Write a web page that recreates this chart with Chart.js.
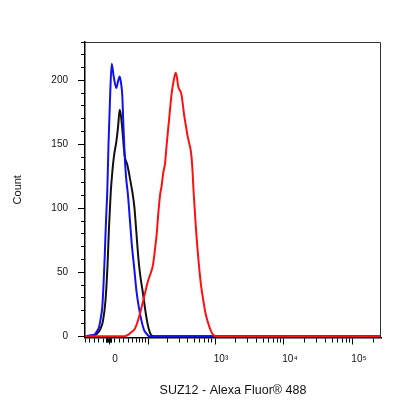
<!DOCTYPE html>
<html>
<head>
<meta charset="utf-8">
<script src="https://cdn.jsdelivr.net/npm/chart.js@4.4.1/dist/chart.umd.min.js"></script>
<style>
  html, body { margin: 0; padding: 0; background: #fff; }
</style>
</head>
<body>
<canvas id="myChart" width="416" height="416" style="width:416px;height:416px"></canvas>
<script>
// x values are display channels on the biexponential axis (69 channels per decade, 0 at channel 0)
const blueX = [-24, -19, -15, -12, -10, -8.5, -6.7, -5.5, -4.3, -3, -1.7, -0.5, 1, 2.7, 4.5, 7.3, 9, 10.7, 12, 13.3, 14.3, 15.7, 17, 19, 21, 23, 25, 27.5, 30, 32.5, 35, 37.5, 40, 272];
const blueY = [0, 0.5, 1, 4, 7, 13, 23, 40, 62, 90, 114, 150, 185, 213, 204, 194, 199, 203, 198, 188, 167, 141, 125, 110, 90, 70, 55, 35, 22, 12, 5, 2, 0, 0];

const blackX = [-24, -17, -12, -9, -6, -3.5, -1.5, 0, 1.7, 3.5, 5, 7.3, 9, 10.7, 12, 13.3, 15.7, 18.3, 21.5, 23.5, 25.5, 27, 29.5, 31.5, 33.5, 36, 38, 40, 42, 45, 272];
const blackY = [0, 0.5, 2, 5, 12, 28, 55, 85, 112, 130, 141, 152, 163, 177, 172, 162, 141, 134, 121, 112, 100, 85, 60, 46, 36, 22, 12, 5, 1, 0, 0];

const redX = [-24, 16, 19, 22, 26, 30, 34.3, 37, 39.3, 42, 44, 46, 47.7, 49.3, 51, 52.7, 54.3, 56, 57.7, 59.3, 61, 62.7, 64.5, 66.7, 68, 69.3, 71, 72.5, 74, 75.3, 77, 78.7, 80.5, 82, 83.5, 84.3, 85.5, 86.7, 88.3, 90, 92, 94.3, 96.5, 99.3, 102, 104.3, 108, 272];
const redY = [0, 0, 1, 3, 6, 15, 28, 37, 44, 50, 56, 68, 80, 96, 110, 118, 128, 135, 150, 163, 177, 190, 199, 206, 202, 195, 192, 189, 180, 172, 164, 156, 150, 144, 130, 117, 102, 87, 70, 55, 40, 28, 18, 10, 4, 1, 0, 0];

// axis ticks (fluorescence values)
const xLabelValues = [0, 1000, 10000, 100000];
const xLabelText = ['0', '10³', '10⁴', '10⁵'];
const xMajorValues = [0, 100, 1000, 10000, 100000];
const xMinorValues = [-50, -40, -30, -20, -10, -5, -4, -3, -2, -1, 1, 2, 3, 4, 5,
  10, 20, 30, 40, 50, 60, 70, 80, 90, 200, 300, 400, 500, 600, 700, 800, 900,
  2000, 3000, 4000, 5000, 6000, 7000, 8000, 9000,
  20000, 30000, 40000, 50000, 60000, 70000, 80000, 90000, 200000];
const yMajorStep = 50;
const yMinorStep = 10;
const yMax = 230;

// biexponential display transform
const W = 29.1;
const PER_DECADE = 69;
const toChannel = v => PER_DECADE * Math.asinh(v / (2 * W)) / Math.LN10;

const toPoints = (xs, ys) => xs.map((x, i) => ({ x, y: ys[i] }));

const frame = {
    id: 'frame',
    afterDatasetsDraw(chart) {
        const { ctx, chartArea: a } = chart;
        ctx.save();
        ctx.strokeStyle = '#333';
        ctx.lineWidth = 1;
        ctx.beginPath();
        ctx.moveTo(a.left, a.top + 0.5);
        ctx.lineTo(a.right - 0.5, a.top + 0.5);
        ctx.lineTo(a.right - 0.5, a.bottom);
        ctx.stroke();
        ctx.restore();
    }
};

const tickFont = { family: '"Liberation Sans", Arial, sans-serif', size: 10 };

const ctx = document.querySelector('#myChart');
const chart = new Chart(ctx, {
    type: 'line',
    data: {
        datasets: [
            { label: 'SUZ12', data: toPoints(redX, redY), borderColor: '#ff1010' },
            { label: 'Isotype', data: toPoints(blueX, blueY), borderColor: '#1010f0' },
            { label: 'Unlabelled', data: toPoints(blackX, blackY), borderColor: '#111111' },
        ],
    },
    options: {
        responsive: false,
        animation: false,
        devicePixelRatio: 1,
        layout: { padding: { top: 42, right: 35, left: 0, bottom: 0 } },
        elements: {
            line: { borderWidth: 2, fill: false, cubicInterpolationMode: 'monotone' },
            point: { radius: 0 },
        },
        plugins: {
            legend: { display: false },
            tooltip: { enabled: false },
        },
        scales: {
            x: {
                type: 'linear',
                min: -24,
                max: 272,
                afterBuildTicks: (scale) => {
                    const values = xMajorValues.concat(xMinorValues);
                    scale.ticks = values.map(v => ({
                        value: toChannel(v),
                        raw: v,
                        major: xMajorValues.includes(v),
                    })).sort((a, b) => a.value - b.value);
                },
                afterFit: (scale) => { scale.height = 78.5; },
                border: { display: true, color: '#000', width: 1.5 },
                grid: {
                    drawOnChartArea: false,
                    drawTicks: true,
                    tickLength: 7,
                    tickColor: '#000',
                    tickWidth: 1,
                    tickBorderDash: (c) => (c.tick && c.tick.major ? [] : [4, 100]),
                },
                ticks: {
                    autoSkip: false,
                    maxRotation: 0,
                    padding: 9,
                    labelOffset: 6,
                    color: '#111',
                    font: tickFont,
                    callback: (value, index, ticks) => {
                        const i = xLabelValues.indexOf(ticks[index].raw);
                        return i >= 0 ? xLabelText[i] : '';
                    },
                },
                title: {
                    display: true,
                    text: 'SUZ12 - Alexa Fluor® 488',
                    color: '#111',
                    font: { family: '"Liberation Sans", Arial, sans-serif', size: 12.5 },
                    padding: { top: 0, bottom: 17.5 },
                },
            },
            y: {
                min: -1,
                max: yMax,
                afterBuildTicks: (scale) => {
                    const ticks = [];
                    for (let v = 0; v <= yMax; v += yMinorStep) {
                        ticks.push({ value: v, major: v % yMajorStep === 0 });
                    }
                    scale.ticks = ticks;
                },
                afterFit: (scale) => { scale.width = 85; },
                border: { display: true, color: '#000', width: 1.5 },
                grid: {
                    drawOnChartArea: false,
                    drawTicks: true,
                    tickLength: 7,
                    tickColor: '#000',
                    tickWidth: 1,
                    tickBorderDash: (c) => (c.tick && c.tick.major ? [] : [4, 100]),
                    tickBorderDashOffset: (c) => (c.tick && c.tick.major ? 0 : 101),
                },
                ticks: {
                    autoSkip: false,
                    padding: 10,
                    color: '#111',
                    font: tickFont,
                    callback: (value) => (value % yMajorStep === 0 ? value : ''),
                },
                title: {
                    display: true,
                    text: 'Count',
                    color: '#111',
                    font: { family: '"Liberation Sans", Arial, sans-serif', size: 11 },
                    padding: { top: 11, bottom: 0 },
                },
            },
        },
    },
    plugins: [frame],
});
</script>
</body>
</html>
